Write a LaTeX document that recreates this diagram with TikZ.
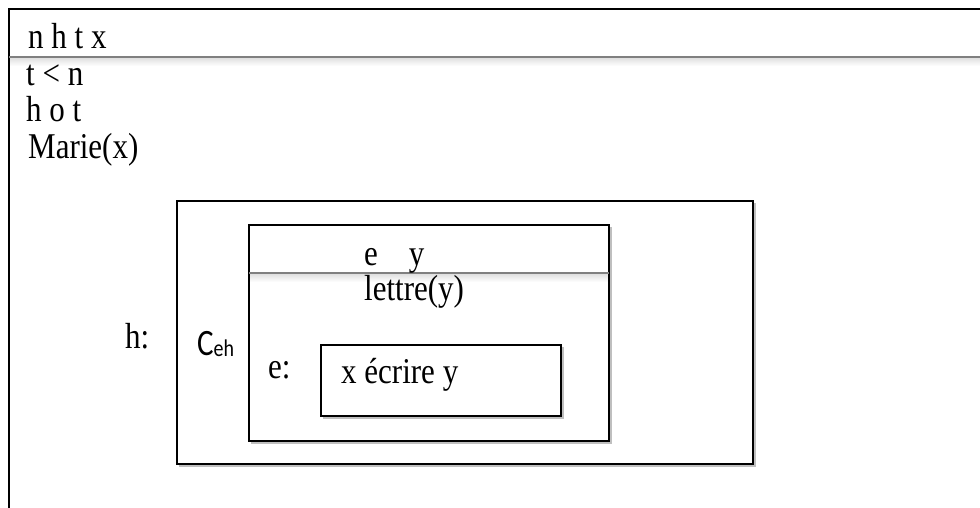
\documentclass[tikz,border=0pt]{standalone}
\usepackage{graphicx}
\usepackage{fontspec}
\setmainfont{Liberation Serif}
\newfontfamily\carl{Carlito}
\newcommand\vstretch[1]{\scalebox{1}[1.17]{#1}}
\begin{document}
\begin{tikzpicture}[x=1pt,y=-1pt,
  txt/.style={anchor=base west,inner sep=0pt,font=\fontsize{31}{37}\selectfont},
  frame/.style={draw=black,line width=2pt},
  shadow/.style={draw=black!25,line width=1.2pt},
  sepline/.style={draw=black!50,line width=1.6pt},
]
\useasboundingbox (0,0) rectangle (980,508);
\fill[white] (0,0) rectangle (980,508);
% outer frame (cropped at right and bottom)
\shade[top color=black!12,bottom color=white] (9,58) rectangle (980,66);
\draw[frame] (9,515) -- (9,9) -- (990,9);
\draw[sepline] (9,57) -- (990,57);
% box h
\draw[shadow] (755,203) -- (755,466) -- (179,466);
\draw[frame] (177,201) rectangle (753,464);
% box C
\shade[top color=black!12,bottom color=white] (249,274) rectangle (608,282);
\draw[shadow] (611,227) -- (611,443) -- (251,443);
\draw[frame] (249,225) rectangle (609,441);
\draw[sepline] (249,273) -- (609,273);
% box e
\draw[shadow] (563,347) -- (563,418) -- (323,418);
\draw[frame] (321,345) rectangle (561,416);
% texts
\node[txt] (t1) at (28,49) {\vstretch{n h t x}};
\node[txt] (t2) at (26,86) {\vstretch{t < n}};
\node[txt] (t3) at (26,122) {\vstretch{h o t}};
\node[txt] (t4) at (28,159) {\vstretch{Marie(x)}};
\node[txt] (ey) at (364,265) {\vstretch{e\hspace{31pt}y}};
\node[txt] (lt) at (364,300) {\vstretch{lettre(y)}};
\node[txt] (hl) at (125,348) {\vstretch{h:}};
\node[txt,font=\carl\fontsize{31}{37}\selectfont] (ceh) at (197,355) {\scalebox{1}[1.2]{C\raisebox{-1.5pt}{\fontsize{20}{24}\selectfont eh}}};
\node[txt] (el) at (268,378) {\vstretch{e:}};
\node[txt] (xe) at (341,383) {\vstretch{x écrire y}};
\end{tikzpicture}
\end{document}
